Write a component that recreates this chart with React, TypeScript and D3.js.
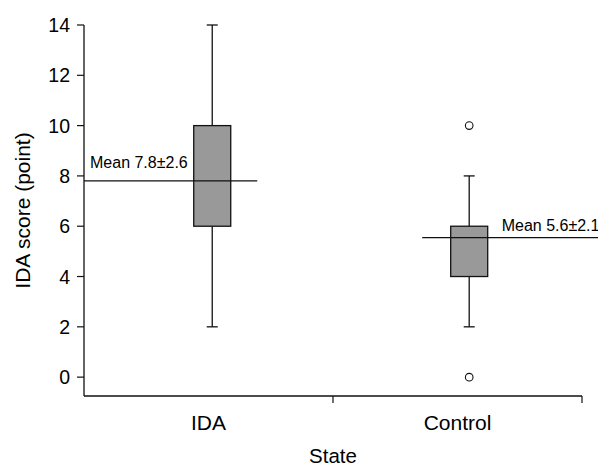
import React from "react";
import * as d3 from "d3";

const categories = ["IDA", "Control"];
const boxPos = [0.515, 1.547];
const whiskerLow = [2, 2];
const q1 = [6, 4];
const q3 = [10, 6];
const whiskerHigh = [14, 8];
const outliers = [[], [10, 0]];
const means = [7.8, 5.55];
const meanLabels = ["Mean 7.8±2.6", "Mean 5.6±2.1"];
const yTicks = [0, 2, 4, 6, 8, 10, 12, 14];

const W = 598;
const H = 466;
const FONT = "'Liberation Sans', Arial, Helvetica, sans-serif";

export default function App() {
  const x = d3.scaleLinear().domain([0, 2]).range([84, 582]);
  const band = d3.scaleBand().domain(categories).range([84, 582]);
  const y = d3.scaleLinear().domain([-0.75, 14]).range([396, 25]);
  const boxHalf = 18.5;
  const capHalf = 5.5;
  const stroke = "#111";

  return (
    <svg width={W} height={H} style={{ position: "absolute", left: 0, top: 0, background: "#fff" }} fontFamily={FONT}>
      {/* y axis */}
      <line x1={84} x2={84} y1={y(14)} y2={y(-0.75)} stroke={stroke} strokeWidth={1.3} />
      {yTicks.map((t) => (
        <g key={t}>
          <line x1={77} x2={84} y1={y(t)} y2={y(t)} stroke={stroke} strokeWidth={1.2} />
          <text x={70} y={y(t)} dy="0.36em" textAnchor="end" fontSize={19.5} fill="#000">{t}</text>
        </g>
      ))}
      {/* x axis */}
      <line x1={84} x2={582} y1={y(-0.75)} y2={y(-0.75)} stroke={stroke} strokeWidth={1.3} />
      {categories.map((c) => {
        const right = (band(c) as number) + band.bandwidth();
        return <line key={"t" + c} x1={right} x2={right} y1={y(-0.75)} y2={y(-0.75) + 7} stroke={stroke} strokeWidth={1.2} />;
      })}
      {categories.map((c) => (
        <text key={"l" + c} x={(band(c) as number) + band.bandwidth() / 2} y={429.5} textAnchor="middle" fontSize={21} fill="#000">{c}</text>
      ))}
      <text x={333} y={463} textAnchor="middle" fontSize={20.5} fill="#000">State</text>
      <text transform={`translate(30,${(y(14) + y(-0.75)) / 2}) rotate(-90)`} textAnchor="middle" fontSize={21} fill="#000">IDA score (point)</text>

      {categories.map((c, i) => {
        const cx = x(boxPos[i]);
        return (
          <g key={"b" + c}>
            <line x1={cx} x2={cx} y1={y(whiskerHigh[i])} y2={y(q3[i])} stroke={stroke} strokeWidth={1.3} />
            <line x1={cx} x2={cx} y1={y(q1[i])} y2={y(whiskerLow[i])} stroke={stroke} strokeWidth={1.3} />
            <line x1={cx - capHalf} x2={cx + capHalf} y1={y(whiskerHigh[i])} y2={y(whiskerHigh[i])} stroke={stroke} strokeWidth={1.3} />
            <line x1={cx - capHalf} x2={cx + capHalf} y1={y(whiskerLow[i])} y2={y(whiskerLow[i])} stroke={stroke} strokeWidth={1.3} />
            <rect x={cx - boxHalf} y={y(q3[i])} width={boxHalf * 2} height={y(q1[i]) - y(q3[i])} fill="#999999" stroke={stroke} strokeWidth={1.3} />
            {outliers[i].map((o, j) => (
              <circle key={j} cx={cx} cy={y(o)} r={3.8} fill="#fff" stroke={stroke} strokeWidth={1.1} />
            ))}
          </g>
        );
      })}

      {/* mean lines */}
      {(() => {
        const c0 = x(boxPos[0]);
        const c1 = x(boxPos[1]);
        return (
          <g>
            <line x1={84} x2={c0 + 45} y1={y(means[0])} y2={y(means[0])} stroke={stroke} strokeWidth={1.3} />
            <text x={90} y={y(means[0]) - 13} fontSize={16} fill="#000">{meanLabels[0]}</text>
            <line x1={c1 - 47} x2={W} y1={y(means[1])} y2={y(means[1])} stroke={stroke} strokeWidth={1.3} />
            <text x={c1 + 32.5} y={y(means[1]) - 7} fontSize={16} fill="#000">{meanLabels[1]}</text>
          </g>
        );
      })()}
    </svg>
  );
}
